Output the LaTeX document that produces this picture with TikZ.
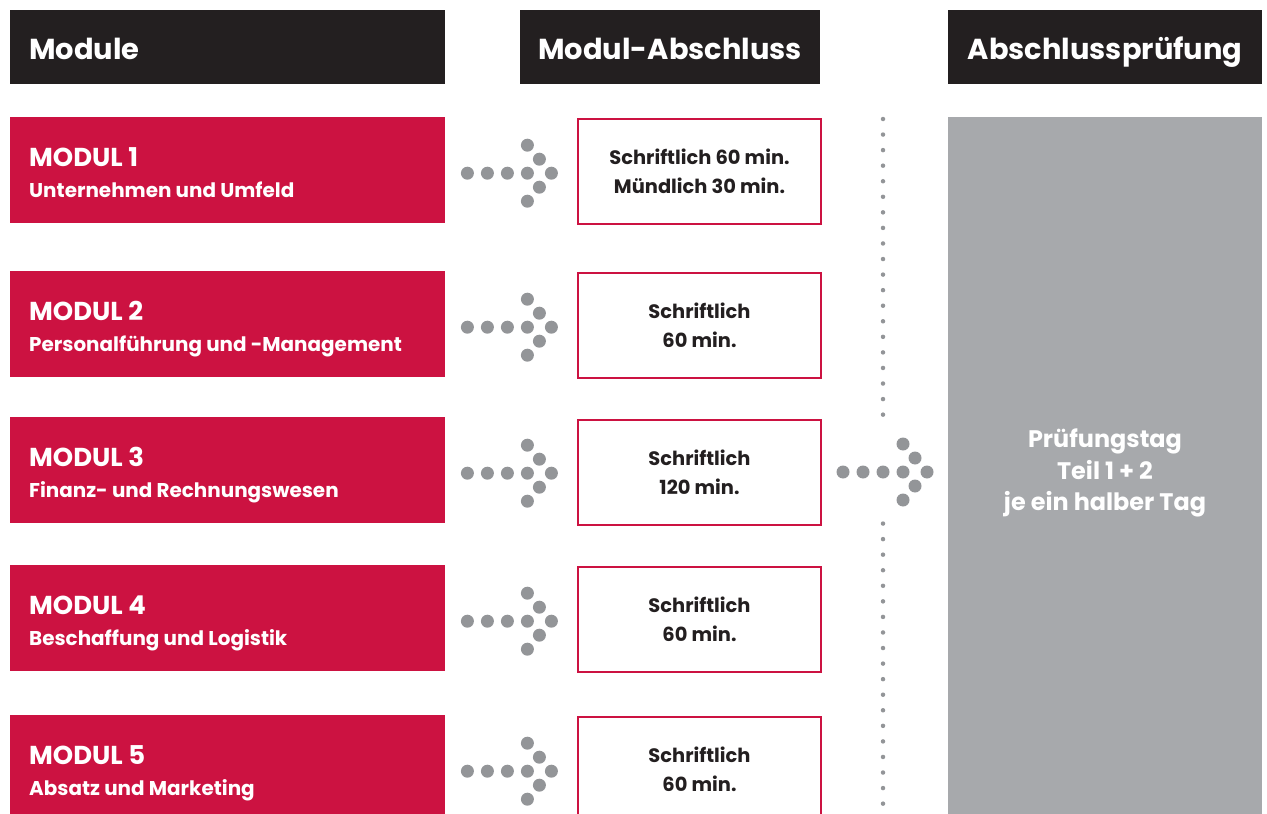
\documentclass[tikz,border=0pt]{standalone}
\usepackage{fontspec}
\setmainfont{Poppins}
\usetikzlibrary{calc}
\definecolor{rot}{HTML}{CC1241}
\definecolor{dunkel}{HTML}{231F20}
\definecolor{hellgrau}{HTML}{A7A9AC}
\definecolor{punktgrau}{HTML}{939598}
\begin{document}
\begin{tikzpicture}[x=1bp, y=-1bp]
\tikzstyle{kopf}=[fill=dunkel, inner sep=0, anchor=north west, minimum height=74bp]
\tikzstyle{kopftext}=[text=white, inner sep=0, font=\bfseries\fontsize{29}{34}\selectfont]
\tikzstyle{modul}=[fill=rot, inner sep=0, anchor=north west, minimum width=435bp, minimum height=106bp]
\tikzstyle{ergebnis}=[draw=rot, line width=2bp, fill=white, text=dunkel, inner sep=0, anchor=north west, minimum width=243bp, minimum height=105bp, align=center, font=\bfseries\fontsize{19.5}{29}\selectfont]
\tikzstyle{punkt}=[circle, fill=punktgrau, inner sep=0, minimum size=13bp]
\tikzstyle{klein}=[circle, fill=punktgrau, inner sep=0, minimum size=4.5bp]
\useasboundingbox (0,0) rectangle (1267,814);
% Kopfzeile
\node[kopf, minimum width=435bp] (k1) at (10,10) {};
\node[kopf, minimum width=300bp] (k2) at (520,10) {};
\node[kopf, minimum width=314bp] (k3) at (948,10) {};
\node[kopftext, anchor=base west] (t1) at ($(k1.north west)+(19,50)$) {Module};
\node[kopftext, anchor=base] (t2) at ($(k2.north)+(0,50)$) {Modul-Abschluss};
\node[kopftext, anchor=base] (t3) at ($(k3.north)+(0,50)$) {Abschlussprüfung};
% Module
\foreach \i/\y/\titel in {1/117/Unternehmen und Umfeld, 2/271/Personalführung und -Management, 3/417/Finanz- und Rechnungswesen, 4/565/Beschaffung und Logistik, 5/715/Absatz und Marketing}{
  \node[modul] (m\i) at (10,\y) {};
  \node[anchor=base west, text=white, inner sep=0, font=\bfseries\fontsize{26}{30}\selectfont] (n\i) at ($(m\i.north west)+(19,49)$) {MODUL \i};
  \node[anchor=base west, text=white, inner sep=0, font=\bfseries\fontsize{20}{24}\selectfont] (s\i) at ($(m\i.north west)+(19,80)$) {\titel};
}
% Modul-Abschluss
\foreach \i/\y/\txt in {1/118/{Schriftlich 60 min.\\Mündlich 30 min.}, 2/272/{Schriftlich\\60 min.}, 3/419/{Schriftlich\\120 min.}, 4/566/{Schriftlich\\60 min.}, 5/716/{Schriftlich\\60 min.}}{
  \node[ergebnis] (r\i) at (577,\y) {\txt};
}
% Pfeile aus Punkten
\foreach \i in {1,...,5}{
  \coordinate (a\i) at ($(m\i.east)+(82,3)$);
  \foreach \dx/\dy in {-60/0, -40/0, -20/0, 0/0, 24/0, 0/-28, 12/-14, 12/14, 0/28}
    \node[punkt] at ($(a\i)+(\dx,\dy)$) {};
}
% Abschlusspruefung
\node[fill=hellgrau, inner sep=0, anchor=north west, minimum width=314bp, minimum height=710bp] (p) at (948,117) {};
\node[text=white, align=center, font=\bfseries\fontsize{24}{32}\selectfont] (pt) at (1105,473) {Prüfungstag\\Teil 1 + 2\\je ein halber Tag};
\coordinate (a6) at (903,472);
\foreach \dx/\dy in {-60/0, -40/0, -20/0, 0/0, 24/0, 0/-28, 12/-14, 12/14, 0/28}
  \node[punkt] at ($(a6)+(\dx,\dy)$) {};
% gepunktete Linie
\foreach \k in {0,...,19,26,27,...,44}
  \node[klein] at (883,119+15.56*\k) {};
\end{tikzpicture}
\end{document}
